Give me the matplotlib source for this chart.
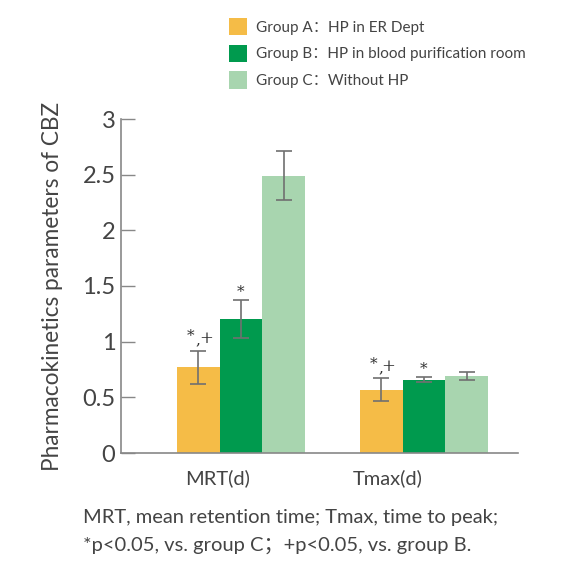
import matplotlib
matplotlib.use("Agg")
import matplotlib.pyplot as plt
from matplotlib.patches import Patch
import numpy as np

categories = ["MRT(d)", "Tmax(d)"]
groups = ["Group A\uff1aHP in ER Dept", "Group B\uff1aHP in blood purification room", "Group C\uff1aWithout HP"]
means = {
    "A": [0.77, 0.57],
    "B": [1.20, 0.66],
    "C": [2.49, 0.69],
}
errs = {
    "A": [0.15, 0.10],
    "B": [0.17, 0.02],
    "C": [0.22, 0.035],
}
colors = ["#F5BC47", "#009A4E", "#A8D5AF"]
yticks = [0, 0.5, 1, 1.5, 2, 2.5, 3]
yticklabels = ["0", "0.5", "1", "1.5", "2", "2.5", "3"]

plt.rcParams['font.family'] = ['Lato', 'Noto Sans CJK SC', 'DejaVu Sans']
txt = "#444444"

W, H = 571, 561
fig = plt.figure(figsize=(W/100, H/100), dpi=100)
left, right, top, bottom = 121, 518, 119, 453
ax = fig.add_axes([left/W, 1-bottom/H, (right-left)/W, (bottom-top)/H])

x = np.arange(len(categories))
w = 0.233
for i, key in enumerate(["A", "B", "C"]):
    ax.bar(x + (i-1)*w, means[key], w, color=colors[i], yerr=errs[key],
           error_kw=dict(ecolor="#707070", elinewidth=1.2, capsize=6, capthick=1.2))

ax.set_xlim(-0.656, 1.514)
ax.set_ylim(0, 3)
ax.set_yticks(yticks)
ax.set_yticklabels(yticklabels, fontsize=17, color=txt)
ax.set_xticks([x[0] - 0.13, x[1] - 0.197])
ax.set_xticklabels(categories, fontsize=14.5, color=txt)
ax.tick_params(axis='y', direction='in', length=10, width=1, color="#888888", pad=4)
ax.tick_params(axis='x', length=0, pad=12)
for s in ["top", "right"]:
    ax.spines[s].set_visible(False)
for s in ["left", "bottom"]:
    ax.spines[s].set_color("#888888")
    ax.spines[s].set_linewidth(1.2)
ax.set_ylabel("Pharmacokinetics parameters of CBZ", fontsize=16.3, color=txt, labelpad=14)

# significance marks
def mark(xc, ytop, s):
    if s == "*,+":
        ax.text(xc - 0.045, ytop + 0.07, "*", ha="center", va="bottom", fontsize=11, color="#333333", family="DejaVu Serif")
        ax.text(xc - 0.005, ytop + 0.03, ",", ha="center", va="bottom", fontsize=11, color="#333333", family="DejaVu Serif")
        ax.text(xc + 0.04, ytop + 0.035, "+", ha="center", va="bottom", fontsize=12, color="#333333", family="DejaVu Serif")
    else:
        ax.text(xc, ytop + 0.01, "*", ha="center", va="bottom", fontsize=11, color="#333333", family="DejaVu Serif")

mark(x[0] - w, means["A"][0] + errs["A"][0], "*,+")
mark(x[0], means["B"][0] + errs["B"][0], "*")
mark(x[1] - w, means["A"][1] + errs["A"][1], "*,+")
mark(x[1], means["B"][1] + errs["B"][1], "*")

handles = [Patch(facecolor=c, edgecolor="none") for c in colors]
fig.legend(handles, groups, loc="upper left", bbox_to_anchor=(223/W, 1-12/H), frameon=False,
           fontsize=11, labelcolor=txt, handlelength=1.15, handleheight=1.35, handletextpad=0.6,
           labelspacing=0.62, borderaxespad=0)

fig.text(83/W, 1-517/H, "MRT, mean retention time; Tmax, time to peak;", fontsize=14.5, color=txt, va="center")
fig.text(83/W, 1-545/H, "*p<0.05, vs. group C\uff1b+p<0.05, vs. group B.", fontsize=14.5, color=txt, va="center")

fig.savefig("out.png", dpi=100)
